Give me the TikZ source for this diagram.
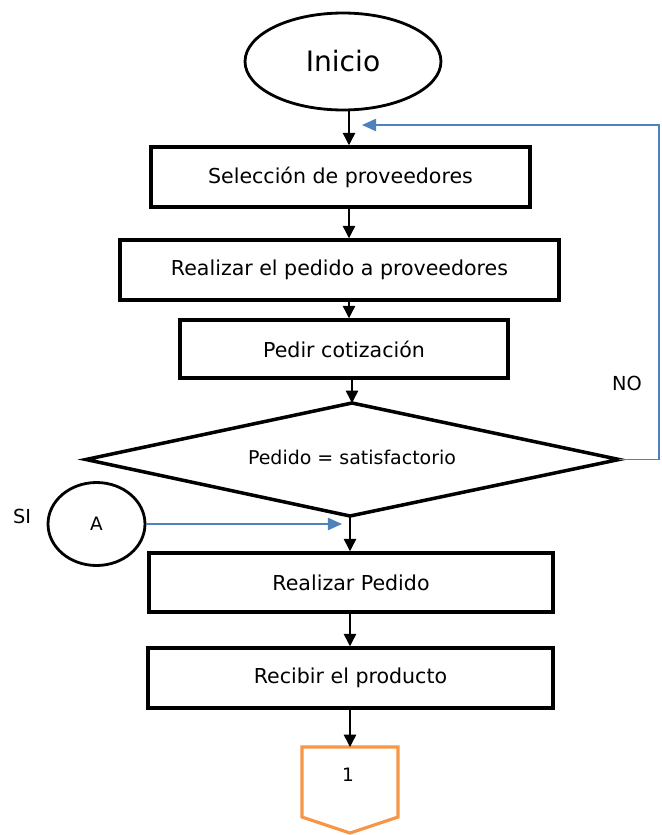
\documentclass[tikz,border=0pt]{standalone}
\usepackage{fontspec}
\setmainfont{DejaVu Sans}
\usetikzlibrary{shapes.geometric,arrows.meta}
\definecolor{azul}{HTML}{4F81BD}
\definecolor{naranja}{HTML}{F79646}

\begin{document}
\begin{tikzpicture}[x=0.02cm, y=-0.02cm,
    caja/.style={draw, line width=2pt, minimum height=1.2cm, inner sep=0pt, font=\fontsize{11.7}{13}\selectfont},
    flecha/.style={line width=0.8pt, -{Triangle[width=7pt,length=7pt]}},
    retro/.style={draw=azul, line width=0.7pt, -{Triangle[width=7pt,length=8pt]}}]
    \useasboundingbox (0,0) rectangle (662,835);
    \coordinate (eje) at (349,0);
    \node[draw, ellipse, line width=1.6pt, minimum width=3.92cm, minimum height=1.94cm, inner sep=0pt, font=\fontsize{16}{18}\selectfont] (inicio) at (343,61.5) {Inicio};
    \node[caja, minimum width=7.58cm] (sel) at (340.5,177) {Selección de proveedores};
    \node[caja, minimum width=8.78cm] (ped) at (339.5,270) {Realizar el pedido a proveedores};
    \node[caja, minimum width=6.56cm, minimum height=1.16cm] (cot) at (344,349) {Pedir cotización};
    \coordinate (dn) at (352,403);
    \coordinate (de) at (619,459.5);
    \coordinate (ds) at (350,516);
    \coordinate (dw) at (86,459.5);
    \draw[line width=2pt, line join=miter] (dn) -- (de) -- (ds) -- (dw) -- cycle;
    \node[font=\fontsize{10.8}{12}\selectfont] (dec) at (352,457) {Pedido = satisfactorio};
    \node[draw, ellipse, line width=1.6pt, minimum width=1.94cm, minimum height=1.66cm, inner sep=0pt, font=\fontsize{10.5}{12}\selectfont] (ca) at (96.5,524) {A};
    \node[caja, minimum width=8.08cm, minimum height=1.18cm] (rea) at (351,582.5) {Realizar Pedido};
    \node[caja, minimum width=8.1cm] (rec) at (350.5,678) {Recibir el producto};
    \draw[naranja, line width=1.8pt] (302,747) -- (398,747) -- (398,817) -- (350,833) -- (302,817) -- cycle;
    \coordinate (conx) at (350,747);
    \node[font=\fontsize{10.5}{12}\selectfont] (uno) at (348,775) {1};
    \node[font=\fontsize{11}{13}\selectfont] (no) at (627,383) {NO};
    \node[font=\fontsize{11}{13}\selectfont] (si) at (22,516) {SI};
    \coordinate (esq) at (659,125);
    \coordinate (vuelta) at (362,125);
    \coordinate (punta) at (342,526);
    \draw[flecha] (inicio.south -| eje) -- (sel.north -| eje);
    \draw[flecha] (sel.south -| eje) -- (ped.north -| eje);
    \draw[flecha] (ped.south -| eje) -- (cot.north -| eje);
    \draw[flecha] (cot.south -| dn) -- (dn);
    \draw[flecha] (ds) -- (ds |- rea.north);
    \draw[flecha] (rea.south -| ds) -- (rec.north -| ds);
    \draw[flecha] (rec.south -| conx) -- (conx);
    \draw[retro] (de) -| (esq) -- (vuelta);
    \draw[retro] (ca.east) -- (ca.east -| punta);
\end{tikzpicture}
\end{document}
